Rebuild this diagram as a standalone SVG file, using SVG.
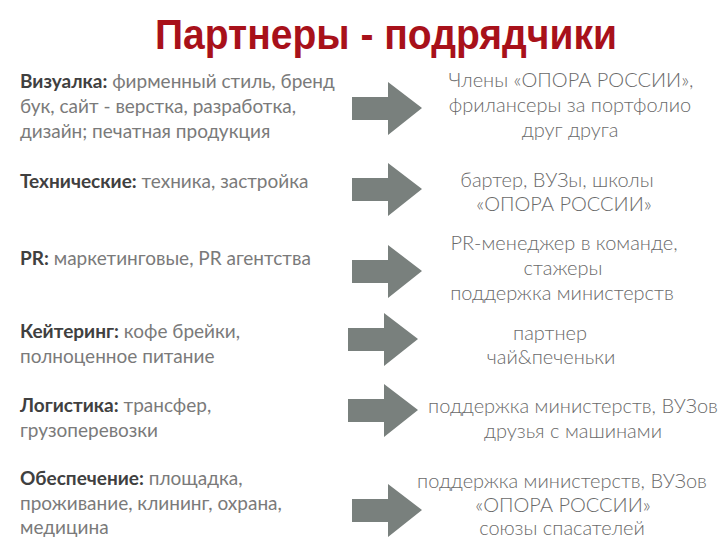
<svg xmlns="http://www.w3.org/2000/svg" width="720" height="540" viewBox="0 0 720 540">
<style>
.title{font-family:"Liberation Sans",Arial,sans-serif;font-weight:bold;font-size:43px;fill:#a8111a}
.l{font-family:Lato,"Noto Sans",sans-serif;font-size:19px;fill:#7a7a7a}
.b{font-weight:bold;fill:#404040}
.r{font-family:Lato,"Noto Sans",sans-serif;font-weight:300;font-size:20px;fill:#6a6a6a;text-anchor:middle}
.arr{fill:#79807d}
</style>
<defs>
<polygon id="arrow" points="0,15 36,15 36,0 70,26 36,53 36,38 0,38"/>
</defs>
<rect width="720" height="540" fill="#ffffff"/>
<text class="title" x="155" y="49" textLength="462" lengthAdjust="spacingAndGlyphs">Партнеры - подрядчики</text>

<g id="left1"><text class="l" x="20" y="88"><tspan class="b">Визуалка:</tspan> фирменный стиль, бренд</text>
<text class="l" x="20" y="113">бук, сайт - верстка, разработка,</text>
<text class="l" x="20" y="138">дизайн; печатная продукция</text></g>
<g id="left2"><text class="l" x="20" y="188"><tspan class="b">Технические:</tspan> техника, застройка</text></g>
<g id="left3"><text class="l" x="20" y="265"><tspan class="b">PR:</tspan> маркетинговые, PR агентства</text></g>
<g id="left4"><text class="l" x="20" y="338"><tspan class="b">Кейтеринг:</tspan> кофе брейки,</text>
<text class="l" x="20" y="363">полноценное питание</text></g>
<g id="left5"><text class="l" x="20" y="412"><tspan class="b">Логистика:</tspan> трансфер,</text>
<text class="l" x="20" y="437">грузоперевозки</text></g>
<g id="left6"><text class="l" x="20" y="485"><tspan class="b">Обеспечение:</tspan> площадка,</text>
<text class="l" x="20" y="510">проживание, клининг, охрана,</text>
<text class="l" x="20" y="534">медицина</text></g>

<g id="connectors">
<use href="#arrow" class="arr" x="352" y="82"/>
<use href="#arrow" class="arr" x="352" y="163"/>
<use href="#arrow" class="arr" x="352" y="245"/>
<use href="#arrow" class="arr" x="348" y="313"/>
<use href="#arrow" class="arr" x="348" y="384"/>
<use href="#arrow" class="arr" x="352" y="484"/>
</g>

<g id="right1"><text class="r" x="571" y="87">Члены «ОПОРА РОССИИ»,</text>
<text class="r" x="570" y="112">фрилансеры за портфолио</text>
<text class="r" x="570" y="137">друг друга</text></g>
<g id="right2"><text class="r" x="557" y="187">бартер, ВУЗы, школы</text>
<text class="r" x="564" y="211">«ОПОРА РОССИИ»</text></g>
<g id="right3"><text class="r" x="564" y="250">PR-менеджер в команде,</text>
<text class="r" x="563" y="275">стажеры</text>
<text class="r" x="562" y="300">поддержка министерств</text></g>
<g id="right4"><text class="r" x="550" y="340">партнер</text>
<text class="r" x="551" y="364">чай&amp;печеньки</text></g>
<g id="right5"><text class="r" x="573" y="413">поддержка министерств, ВУЗов</text>
<text class="r" x="573" y="438">друзья с машинами</text></g>
<g id="right6"><text class="r" x="562" y="488">поддержка министерств, ВУЗов</text>
<text class="r" x="563" y="512">«ОПОРА РОССИИ»</text>
<text class="r" x="562" y="535">союзы спасателей</text></g>
</svg>
